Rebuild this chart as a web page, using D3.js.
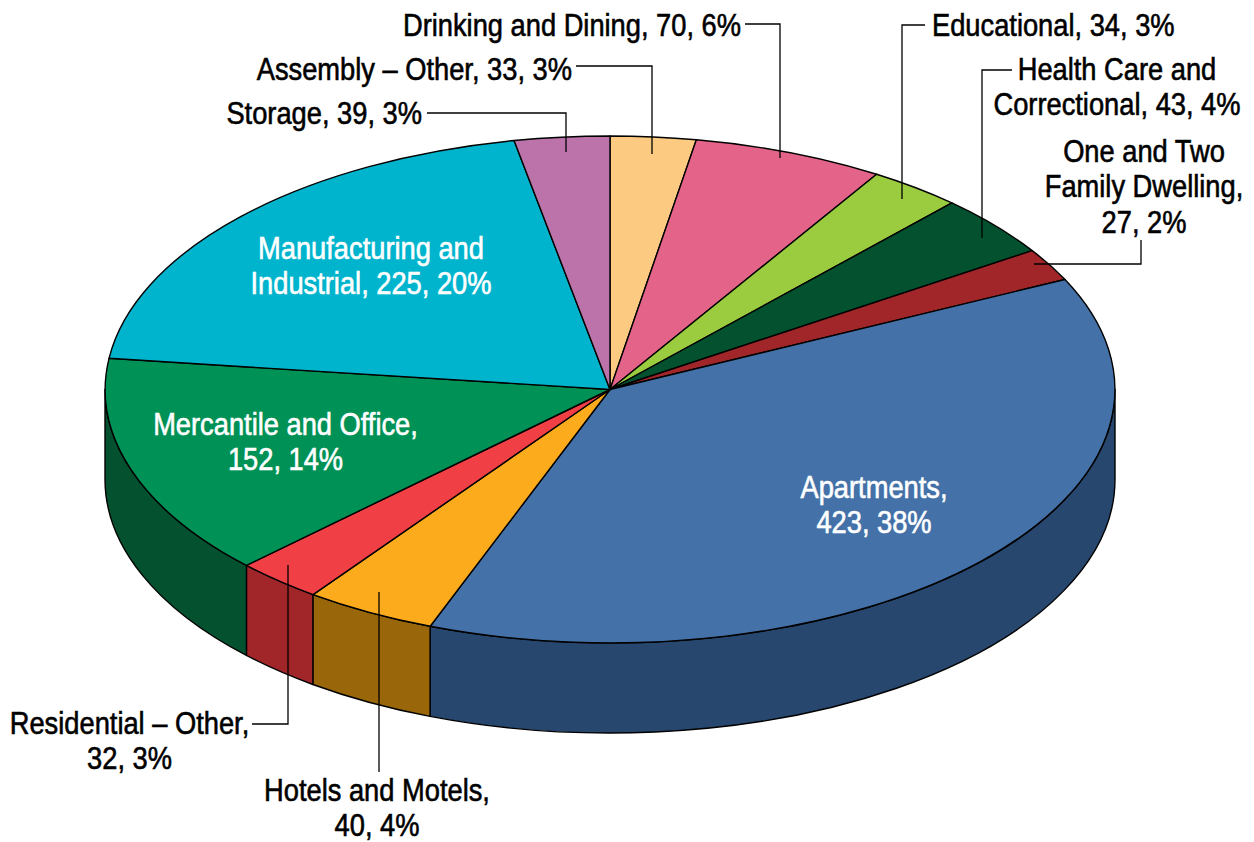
<!DOCTYPE html>
<html><head><meta charset="utf-8">
<script src="https://cdnjs.cloudflare.com/ajax/libs/d3/7.8.5/d3.min.js"></script>
<style>html,body{margin:0;padding:0;background:#fff}svg{display:block}
text{font-family:"Liberation Sans",sans-serif;font-size:31px;stroke-width:.6px}</style>
</head><body><svg id="c" width="1254" height="842"></svg>
<script>
const categories=["Assembly – Other","Drinking and Dining","Educational","Health Care and Correctional","One and Two Family Dwelling","Apartments","Hotels and Motels","Residential – Other","Mercantile and Office","Manufacturing and Industrial","Storage"];
const values=[33,70,34,43,27,423,40,32,152,225,39];
const percents=[3,6,3,4,2,38,4,3,14,20,3];
const topColors=["#fdca82","#e46388","#9bcb3f","#03512e","#a12629","#4472a8","#fcab1c","#f04045","#009156","#00b4cd","#bb73a9"];
const sideColors=["#fdca82","#e46388","#9bcb3f","#03512e","#a12629","#27476f","#996709","#a12629","#03512e","#00b4cd","#bb73a9"];

// layout (not data)
const cx=610,cy=389.5,rx=505,ry=253.5,depth=90,squeeze=.88;
const labelLayout=[
 {lines:["Assembly – Other, 33, 3%"],x:572,y:80,a:"end",c:"#000",leader:[[576,66],[652,66],[652,154]]},
 {lines:["Drinking and Dining, 70, 6%"],x:741,y:36,a:"end",c:"#000",leader:[[745,24],[780,24],[780,158]]},
 {lines:["Educational, 34, 3%"],x:932,y:36,a:"start",c:"#000",leader:[[925,25],[902,25],[902,199]]},
 {lines:["Health Care and","Correctional, 43, 4%"],x:1117,y:80,a:"middle",c:"#000",leader:[[1012,70],[982,70],[982,238]]},
 {lines:["One and Two","Family Dwelling,","27, 2%"],x:1144,y:162,a:"middle",c:"#000",leader:[[1141,240],[1141,264],[1034,264]]},
 {lines:["Apartments,","423, 38%"],x:874,y:498,a:"middle",c:"#fff"},
 {lines:["Hotels and Motels,","40, 4%"],x:377,y:801,a:"middle",c:"#000",leader:[[379,592],[379,772]]},
 {lines:["Residential – Other,","32, 3%"],x:129.5,y:734,a:"middle",c:"#000",leader:[[252,724],[288,724],[288,565]]},
 {lines:["Mercantile and Office,","152, 14%"],x:285.5,y:435,a:"middle",c:"#fff"},
 {lines:["Manufacturing and","Industrial, 225, 20%"],x:371,y:259,a:"middle",c:"#fff"},
 {lines:["Storage, 39, 3%"],x:422,y:124,a:"end",c:"#000",leader:[[427,113],[566,113],[566,152]]}
];

// the drawing's tilted view shifts slice edges a little: true pie angle -> drawn ellipse angle (degrees)
const view=d3.scaleLinear()
 .domain([0,10.6,33.2,44.1,57.9,66.6,202.8,215.7,226,275,347.4,360])
 .range([0,9.8,31.9,42.6,56.7,64.2,200.8,216,226,277.1,349,360]);
const rad=Math.PI/180, toView=a=>view(a/rad)*rad;

const svg=d3.select("#c");
const data=categories.map((n,i)=>({n,v:values[i],p:percents[i],i}));
const arcs=d3.pie().value(d=>d.v).sort(null)(data)
 .map(d=>({...d,startAngle:toView(d.startAngle),endAngle:toView(d.endAngle)}));
const PI=Math.PI;
const px=a=>cx+rx*Math.sin(a), py=a=>cy-ry*Math.cos(a);

// side walls: visible only for the lower half of the ellipse
const sides=arcs.map(d=>({d,a0:Math.max(d.startAngle,PI/2),a1:Math.min(d.endAngle,3*PI/2)})).filter(s=>s.a1>s.a0);
svg.append("g").selectAll("path").data(sides).join("path")
 .attr("d",s=>`M${px(s.a0)},${py(s.a0)}A${rx},${ry} 0 0 1 ${px(s.a1)},${py(s.a1)}L${px(s.a1)},${py(s.a1)+depth}A${rx},${ry} 0 0 0 ${px(s.a0)},${py(s.a0)+depth}Z`)
 .attr("fill",s=>sideColors[s.d.data.i]).attr("stroke","#000").attr("stroke-width",1.4).attr("stroke-linejoin","round");

// top face
const arc=d3.arc().innerRadius(0).outerRadius(1);
svg.append("g").attr("transform",`translate(${cx},${cy}) scale(${rx},${ry})`)
 .selectAll("path").data(arcs).join("path").attr("d",arc)
 .attr("fill",d=>topColors[d.data.i]).attr("stroke","#000").attr("stroke-width",1.4)
 .attr("vector-effect","non-scaling-stroke").attr("stroke-linejoin","round");

// leaders
const line=d3.line();
svg.append("g").selectAll("path").data(labelLayout.filter(l=>l.leader)).join("path")
 .attr("d",l=>line(l.leader)).attr("fill","none").attr("stroke","#000").attr("stroke-width",1.3);

// labels
const lh=35.5;
const t=svg.append("g").selectAll("text").data(labelLayout).join("text")
 .attr("transform",l=>`translate(${l.x},${l.y}) scale(${squeeze},1)`)
 .attr("text-anchor",l=>l.a).attr("fill",l=>l.c).attr("stroke",l=>l.c);
t.selectAll("tspan").data(l=>l.lines.map((s,i)=>({s,i}))).join("tspan")
 .attr("x",0).attr("dy",d=>d.i?lh:0).text(d=>d.s);
</script></body></html>
